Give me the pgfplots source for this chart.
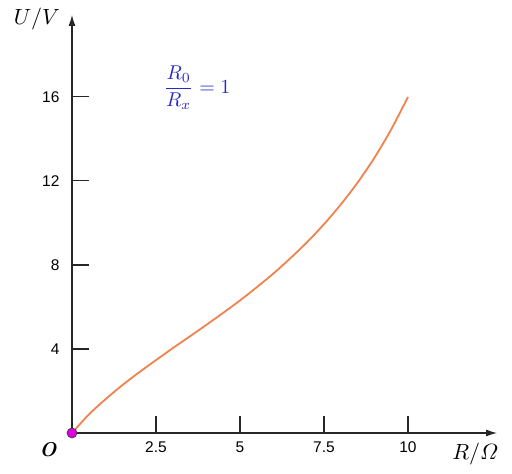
\documentclass[border=0pt]{standalone}
\usepackage{amsmath}
\usepackage{fontspec}
\setsansfont{Liberation Sans}
\usepackage{pgfplots}
\pgfplotsset{compat=1.18}
\usetikzlibrary{arrows.meta}
\definecolor{curve}{RGB}{240,130,78}
\definecolor{fracblue}{RGB}{40,40,200}
\definecolor{dotfill}{RGB}{225,0,225}
\begin{document}
\begin{tikzpicture}[x=1pt,y=1pt]
\begin{axis}[
  at={(0,0)}, anchor=south west,
  scale only axis, width=425pt, height=418pt,
  axis lines=middle,
  axis line style={line width=1.1pt, color=black!85, -{Latex[length=11pt,width=7pt]}},
  xmin=0, xmax=12.65, ymin=0, ymax=19.9,
  xtick={2.5,5,7.5,10}, xticklabels={2.5,5,7.5,10},
  ytick={4,8,12,16}, yticklabels={4,8,12,16},
  tick align=inside,
  major tick length=17pt,
  tick style={line width=1.1pt, color=black!85},
  xticklabel style={font=\sffamily\fontsize{15.5}{17}\selectfont, yshift=-5pt},
  yticklabel style={font=\sffamily\fontsize{15.5}{17}\selectfont, xshift=-9pt},
  clip=false,
]
\addplot[curve, line width=1.8pt, smooth] coordinates {
(0,0) (0.5,0.88) (1,1.61) (1.5,2.28) (2,2.89) (2.5,3.47) (3,4.04) (3.5,4.59)
(4,5.15) (4.5,5.72) (5,6.31) (5.5,6.94) (6,7.60) (6.5,8.32) (7,9.09) (7.5,9.94)
(8,10.88) (8.5,11.92) (9,13.10) (9.5,14.45) (10,16.0)};
\addplot[only marks, mark=*, mark size=5pt, mark options={fill=dotfill, draw=black!75, line width=0.7pt}] coordinates {(0,0)};
\end{axis}
\node[scale=2.0] at (-24pt,-17pt) {\textbf{\textit{O}}};
\node[scale=2.2, anchor=west] at (-66pt,414pt) {$U/V$};
\node[scale=2.2, anchor=east] at (434pt,-21pt) {$R/\varOmega$};
\node[scale=2.0, text=fracblue] at (125pt,345pt) {$\dfrac{R_0}{R_x}=1$};
\pgfresetboundingbox
\path (-72pt,-41pt) rectangle (440pt,433pt);
\end{tikzpicture}
\end{document}
